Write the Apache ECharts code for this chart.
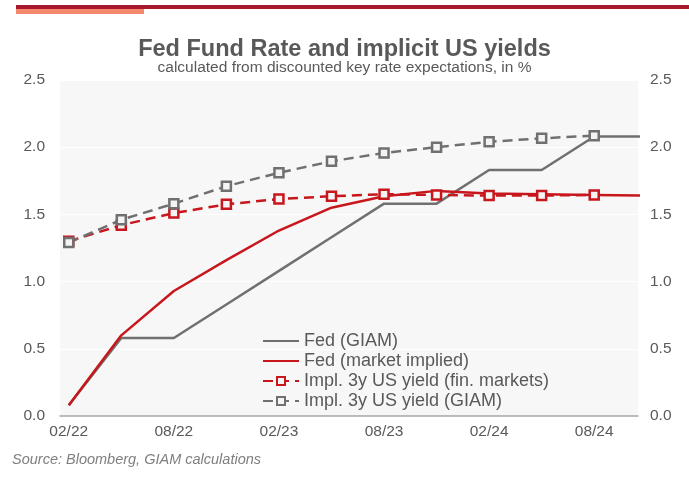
<!DOCTYPE html>
<html>
<head>
<meta charset="utf-8">
<script src="https://cdn.jsdelivr.net/npm/echarts@6/dist/echarts.min.js"></script>
<style>
  html, body { margin: 0; padding: 0; background: #fff; }
  #chart { width: 689px; height: 479px; }
</style>
</head>
<body>
<div id="chart"></div>
<script>
// quarterly points, months counted from 02/22
const monthIdx = [0, 3, 6, 9, 12, 15, 18, 21, 24, 27, 30, 33];
const fedGiam = [0.08, 0.58, 0.58, 0.83, 1.08, 1.33, 1.58, 1.58, 1.83, 1.83, 2.08, 2.08];
const fedMarket = [0.08, 0.60, 0.93, 1.16, 1.38, 1.55, 1.635, 1.675, 1.655, 1.65, 1.645, 1.64];
const yieldMarkets = [1.30, 1.42, 1.51, 1.575, 1.615, 1.635, 1.65, 1.645, 1.64, 1.64, 1.645];
const yieldGiam = [1.29, 1.46, 1.58, 1.71, 1.81, 1.895, 1.957, 2.00, 2.04, 2.066, 2.086];

const xTickPos = [0, 6, 12, 18, 24, 30];
const xTickLabels = ['02/22', '08/22', '02/23', '08/23', '02/24', '08/24'];

const RED = '#c8161d';
const GREY = '#707070';
const TXT = '#595959';
const FONT = 'Liberation Sans';

function pairs(vals) {
  return vals.map((v, i) => [monthIdx[i], v]);
}

const chart = echarts.init(document.getElementById('chart'));

const yAxisBase = {
  type: 'value',
  min: 0,
  max: 2.5,
  interval: 0.5,
  axisLine: { show: false },
  axisTick: { show: false },
  axisLabel: {
    color: TXT,
    fontSize: 15.5,
    fontFamily: FONT,
    formatter: v => v.toFixed(1)
  }
};

const option = {
  animation: false,
  textStyle: { fontFamily: FONT },
  graphic: [
    { type: 'rect', shape: { x: 16, y: 5, width: 673, height: 4 }, style: { fill: '#a8192e' } },
    { type: 'rect', shape: { x: 16, y: 9, width: 128, height: 5 }, style: { fill: '#f4876d' } },
    {
      type: 'text', left: 12, top: 452,
      style: { text: 'Source: Bloomberg, GIAM calculations', fill: '#7f7f7f', fontSize: 14.5, fontStyle: 'italic', fontFamily: FONT }
    }
  ],
  title: [
    {
      text: 'Fed Fund Rate and implicit US yields',
      left: 'center', top: 33,
      textStyle: { color: TXT, fontSize: 23.5, fontWeight: 'bold', fontFamily: FONT }
    },
    {
      text: 'calculated from discounted key rate expectations, in %',
      left: 'center', top: 55,
      textStyle: { color: TXT, fontSize: 15.5, fontWeight: 'normal', fontFamily: FONT }
    }
  ],
  grid: {
    left: 60, right: 51, top: 80, bottom: 63,
    show: true, backgroundColor: '#f7f7f7', borderWidth: 0
  },
  legend: {
    orient: 'vertical',
    left: 257, top: 327,
    itemWidth: 36, itemHeight: 10, itemGap: 2,
    textStyle: { color: TXT, fontSize: 18, fontFamily: FONT },
    data: [
      { name: 'Fed (GIAM)', itemStyle: { opacity: 0 } },
      { name: 'Fed (market implied)', itemStyle: { opacity: 0 } },
      'Impl. 3y US yield (fin. markets)',
      'Impl. 3y US yield (GIAM)'
    ]
  },
  xAxis: {
    type: 'value',
    min: -0.5,
    max: 32.5,
    splitLine: { show: false },
    axisTick: { show: false },
    axisLine: { onZero: false, lineStyle: { color: '#a6a6a6', width: 1.5 } },
    axisLabel: {
      customValues: xTickPos,
      color: TXT, fontSize: 15.5, fontFamily: FONT, margin: 8,
      formatter: v => xTickLabels[xTickPos.indexOf(v)] || ''
    }
  },
  yAxis: [
    Object.assign({}, yAxisBase, {
      position: 'left',
      splitLine: { show: true, lineStyle: { color: '#ffffff', width: 1 } },
      axisLabel: Object.assign({}, yAxisBase.axisLabel, { margin: 15 })
    }),
    Object.assign({}, yAxisBase, {
      position: 'right',
      splitLine: { show: false },
      axisLabel: Object.assign({}, yAxisBase.axisLabel, { margin: 12 })
    })
  ],
  series: [
    {
      name: 'Fed (GIAM)', type: 'line', data: pairs(fedGiam),
      showSymbol: false, symbol: 'none',
      lineStyle: { color: GREY, width: 2.5 }, itemStyle: { color: GREY }
    },
    {
      name: 'Fed (market implied)', type: 'line', data: pairs(fedMarket),
      showSymbol: false, symbol: 'none',
      lineStyle: { color: RED, width: 2.5 }, itemStyle: { color: RED }
    },
    {
      name: 'Impl. 3y US yield (fin. markets)', type: 'line', data: pairs(yieldMarkets),
      symbol: 'rect', symbolSize: 9,
      lineStyle: { color: RED, width: 2.5, type: [10, 6] },
      itemStyle: { color: '#f4f4f4', borderColor: RED, borderWidth: 2.5 }
    },
    {
      name: 'Impl. 3y US yield (GIAM)', type: 'line', data: pairs(yieldGiam),
      symbol: 'rect', symbolSize: 9,
      lineStyle: { color: GREY, width: 2.5, type: [10, 6] },
      itemStyle: { color: '#f4f4f4', borderColor: GREY, borderWidth: 2.5 }
    }
  ]
};

chart.setOption(option);
</script>
</body>
</html>
